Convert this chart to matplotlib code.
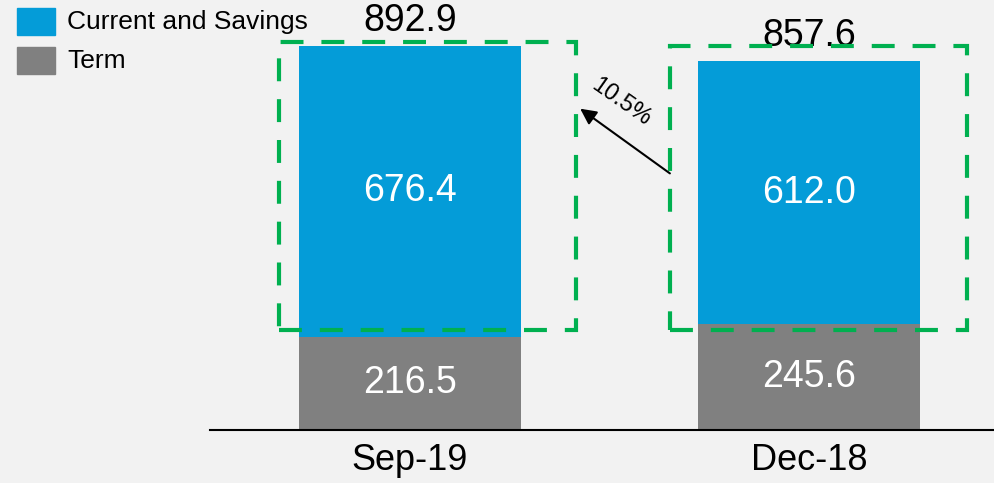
import matplotlib.pyplot as plt
from matplotlib.patches import Rectangle

plt.rcParams["font.family"] = ["Liberation Sans", "DejaVu Sans"]

# data
periods = ["Sep-19", "Dec-18"]
term = [216.5, 245.6]
current_savings = [676.4, 612.0]
totals = [892.9, 857.6]
change_label = "10.5%"

blue = "#049CD8"
grey = "#808080"
green = "#00B050"
bg = "#F2F2F2"

fig = plt.figure(figsize=(9.95, 4.83), dpi=100, facecolor=bg)
ax = fig.add_axes([210 / 995, 53 / 483, 785 / 995, 430 / 483])
ax.set_facecolor(bg)

x = list(range(len(periods)))
w = 0.556
ax.bar(x, term, width=w, color=grey, label="Term")
ax.bar(x, current_savings, width=w, bottom=term, color=blue, label="Current and Savings")

for i in x:
    ax.text(i, term[i] / 2, f"{term[i]:.1f}", ha="center", va="center",
            color="white", fontsize=27)
    ax.text(i, term[i] + current_savings[i] / 2, f"{current_savings[i]:.1f}",
            ha="center", va="center", color="white", fontsize=27)
    ax.annotate(f"{totals[i]:.1f}", (i, totals[i]), xytext=(0.5, 10.8),
                textcoords="offset points", ha="center", va="baseline",
                fontsize=27, zorder=2.5)

# dashed highlight boxes around the current & savings part
boxes = [(-0.328, 232, 0.744, 670), (0.652, 232, 0.744, 661)]
for bx, by, bw, bh in boxes:
    ax.add_patch(Rectangle((bx, by), bw, bh, fill=False, edgecolor=green,
                           linewidth=3, linestyle=(0, (5.5, 4.3)), zorder=3))

ax.annotate("", xy=(0.421, 751), xytext=(0.657, 593),
            arrowprops=dict(arrowstyle="-|>", color="black", lw=1.5,
                            mutation_scale=24))
ax.text(0.529, 762, change_label, rotation=-35, ha="center", va="center", fontsize=17)

ax.set_xlim(-0.501, 1.466)
ax.set_ylim(0, 1000)
ax.set_xticks(x)
ax.set_xticklabels(periods, fontsize=26)
ax.tick_params(axis="x", length=0, pad=9)
ax.set_yticks([])
for s in ["top", "right", "left"]:
    ax.spines[s].set_visible(False)
ax.spines["bottom"].set_linewidth(1.5)

# legend drawn by hand in the top-left corner
leg = [("Current and Savings", blue), ("Term", grey)]
for k, (name, col) in enumerate(leg):
    y0 = 483 - 35 - k * 39
    fig.add_artist(Rectangle((17 / 995, y0 / 483), 38 / 995, 27 / 483,
                             transform=fig.transFigure, color=col))
    fig.text(67 / 995, (y0 + 13.5) / 483, name, va="center", ha="left", fontsize=19)

fig.savefig("out.png", dpi=100, facecolor=bg)
